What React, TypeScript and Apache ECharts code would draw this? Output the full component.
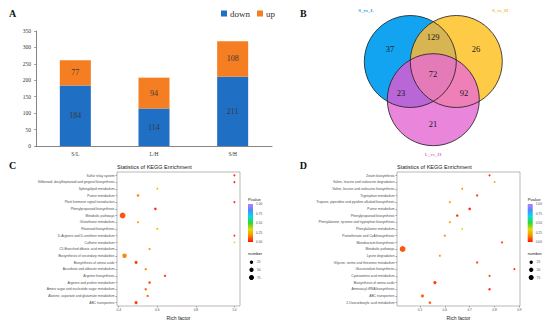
import React, { useEffect, useRef } from "react";
import * as echarts from "echarts";

// ---------- Panel A data ----------
const barCategories = ["S/L", "L/H", "S/H"];
const downValues = [184, 114, 211];
const upValues = [77, 94, 108];

// ---------- Panel B data ----------
const vennSetNames = ["S_vs_L", "S_vs_H", "L_vs_H"];
// region counts: A only, B only, C only, AB, AC, BC, ABC
const vennOnly = [37, 26, 21];
const vennPairAB = 129;
const vennPairAC = 23;
const vennPairBC = 92;
const vennAll = 72;

// ---------- Panel C data ----------
const keggCPathways = [
  "Sulfur relay system",
  "Stilbenoid, diarylheptanoid and gingerol biosynthesis",
  "Sphingolipid metabolism",
  "Purine metabolism",
  "Plant hormone signal transduction",
  "Phenylpropanoid biosynthesis",
  "Metabolic pathways",
  "Glutathione metabolism",
  "Flavonoid biosynthesis",
  "D-Arginine and D-ornithine metabolism",
  "Caffeine metabolism",
  "C5-Branched dibasic acid metabolism",
  "Biosynthesis of secondary metabolites",
  "Biosynthesis of amino acids",
  "Ascorbate and aldarate metabolism",
  "Arginine biosynthesis",
  "Arginine and proline metabolism",
  "Amino sugar and nucleotide sugar metabolism",
  "Alanine, aspartate and glutamate metabolism",
  "ABC transporters",
];
const keggCRich = [1.0, 1.0, 0.6, 0.5, 1.0, 0.59, 0.42, 0.5, 0.6, 1.0, 1.0, 0.56, 0.43, 0.49, 0.54, 0.64, 0.56, 0.54, 0.55, 0.49];
const keggCNumber = [3, 3, 3, 10, 3, 10, 110, 5, 3, 2, 1, 5, 55, 18, 7, 7, 10, 8, 6, 18];
const keggCPvalue = [0.02, 0.02, 0.3, 0.15, 0.03, 0.02, 0.08, 0.2, 0.3, 0.04, 0.3, 0.2, 0.15, 0.05, 0.15, 0.04, 0.06, 0.1, 0.1, 0.05];
const richTicksC = [0.4, 0.6, 0.8, 1.0];

// ---------- Panel D data ----------
const keggDPathways = [
  "Zeatin biosynthesis",
  "Valine, leucine and isoleucine degradation",
  "Valine, leucine and isoleucine biosynthesis",
  "Tryptophan metabolism",
  "Tropane, piperidine and pyridine alkaloid biosynthesis",
  "Purine metabolism",
  "Phenylpropanoid biosynthesis",
  "Phenylalanine, tyrosine and tryptophan biosynthesis",
  "Phenylalanine metabolism",
  "Pantothenate and CoA biosynthesis",
  "Monobactam biosynthesis",
  "Metabolic pathways",
  "Lysine degradation",
  "Glycine, serine and threonine metabolism",
  "Glucosinolate biosynthesis",
  "Cyanoamino acid metabolism",
  "Biosynthesis of amino acids",
  "Aminoacyl-tRNA biosynthesis",
  "ABC transporters",
  "2-Oxocarboxylic acid metabolism",
];
const keggDRich = [0.78, 0.8, 0.67, 0.73, 0.62, 0.7, 0.65, 0.62, 0.67, 0.6, 0.83, 0.43, 0.58, 0.73, 0.88, 0.78, 0.56, 0.78, 0.51, 0.54];
const keggDNumber = [3, 2, 3, 5, 3, 12, 10, 3, 1, 3, 3, 110, 4, 5, 4, 5, 22, 10, 18, 10];
const keggDPvalue = [0.03, 0.2, 0.2, 0.03, 0.2, 0.02, 0.05, 0.2, 0.3, 0.15, 0.04, 0.08, 0.18, 0.04, 0.03, 0.05, 0.04, 0.03, 0.1, 0.1];
const richTicksD = [0.5, 0.6, 0.7, 0.8, 0.9];

// ---------- legends ----------
const pvalueTicks = [0, 0.25, 0.5, 0.75, 1.0];
const numberTicks = [25, 50, 75];
const pColors = ["#FF1500", "#FF8A00", "#E6D800", "#2FD82F", "#00E0E0", "#4C8BFF", "#B77EFF"];

const SERIF = "'Liberation Serif', 'Times New Roman', serif";
const SANS = "'Liberation Sans', Arial, sans-serif";

const sizeFn = (n: number) => 1.2 + 0.44 * Math.sqrt(n);

// ---------- Venn geometry ----------
const R = 46;
const vennCenters: number[][] = [
  [410.3, 61.5],
  [456.3, 61.5],
  [433.3, 99.7],
];
const vennOnlyColors = ["#12A4F0", "#FECB47", "#E985DA"];
const vennABColor = "#D7B553";
const vennACColor = "#B967D6";
const vennBCColor = "#EE7FB7";
const vennAllColor = "#E47AB8";

function pairPoints(a: number[], b: number[]) {
  const dx = b[0] - a[0];
  const dy = b[1] - a[1];
  const d = Math.hypot(dx, dy);
  const h = Math.sqrt(R * R - (d * d) / 4);
  const mx = (a[0] + b[0]) / 2;
  const my = (a[1] + b[1]) / 2;
  const ux = -dy / d;
  const uy = dx / d;
  return [
    [mx + ux * h, my + uy * h],
    [mx - ux * h, my - uy * h],
  ];
}
const pt = (p: number[]) => `${p[0].toFixed(3)} ${p[1].toFixed(3)}`;
function lensPath(a: number[], b: number[]) {
  const [p, q] = pairPoints(a, b);
  return `M${pt(p)} A${R} ${R} 0 0 1 ${pt(q)} A${R} ${R} 0 0 1 ${pt(p)} Z`;
}
function innerPoint(a: number[], b: number[], c: number[]) {
  const [p, q] = pairPoints(a, b);
  const dp = Math.hypot(p[0] - c[0], p[1] - c[1]);
  const dq = Math.hypot(q[0] - c[0], q[1] - c[1]);
  return dp < dq ? p : q;
}
function centerPath() {
  const [A, B, C] = vennCenters;
  const verts = [innerPoint(A, B, C), innerPoint(A, C, B), innerPoint(B, C, A)];
  const cx = (verts[0][0] + verts[1][0] + verts[2][0]) / 3;
  const cy = (verts[0][1] + verts[1][1] + verts[2][1]) / 3;
  verts.sort((u, v) => Math.atan2(u[1] - cy, u[0] - cx) - Math.atan2(v[1] - cy, v[0] - cx));
  return `M${pt(verts[0])} A${R} ${R} 0 0 1 ${pt(verts[1])} A${R} ${R} 0 0 1 ${pt(verts[2])} A${R} ${R} 0 0 1 ${pt(verts[0])} Z`;
}

echarts.graphic.registerShape("vennLensAB", echarts.graphic.extendPath(lensPath(vennCenters[0], vennCenters[1]), {}));
echarts.graphic.registerShape("vennLensAC", echarts.graphic.extendPath(lensPath(vennCenters[0], vennCenters[2]), {}));
echarts.graphic.registerShape("vennLensBC", echarts.graphic.extendPath(lensPath(vennCenters[1], vennCenters[2]), {}));
echarts.graphic.registerShape("vennCenter", echarts.graphic.extendPath(centerPath(), {}));

function buildGraphics() {
  const g: any[] = [];
  const letter = (t: string, x: number, y: number) => ({
    type: "text",
    x,
    y,
    style: { text: t, fontSize: 10, fontWeight: "bold", fontFamily: SERIF, fill: "#111", align: "center", verticalAlign: "middle" },
  });
  g.push(letter("A", 12.5, 13), letter("B", 303.3, 13), letter("C", 12.7, 165), letter("D", 303.3, 165));

  // Venn fills
  vennCenters.forEach((c, i) => {
    g.push({ type: "circle", shape: { cx: c[0], cy: c[1], r: R }, style: { fill: vennOnlyColors[i] } });
  });
  g.push({ type: "vennLensAB", x: 0, y: 0, style: { fill: vennABColor } });
  g.push({ type: "vennLensAC", x: 0, y: 0, style: { fill: vennACColor } });
  g.push({ type: "vennLensBC", x: 0, y: 0, style: { fill: vennBCColor } });
  g.push({ type: "vennCenter", x: 0, y: 0, style: { fill: vennAllColor } });
  vennCenters.forEach((c) => {
    g.push({ type: "circle", shape: { cx: c[0], cy: c[1], r: R }, style: { fill: "none", stroke: "#1a1a1a", lineWidth: 0.8 } });
  });
  const num = (v: number, x: number, y: number) => ({
    type: "text",
    x,
    y,
    style: { text: String(v), fontSize: 8.5, fontFamily: SERIF, fill: "#1a1a1a", align: "center", verticalAlign: "middle" },
  });
  g.push(
    num(vennOnly[0], 390, 49),
    num(vennPairAB, 433, 37),
    num(vennOnly[1], 476, 49),
    num(vennAll, 433, 74),
    num(vennPairAC, 401, 93),
    num(vennPairBC, 464, 93),
    num(vennOnly[2], 433, 124)
  );
  const setLabelColors = ["#1BA3EE", "#F2BE3C", "#E07ED6"];
  const setLabelPos = [
    [366, 10],
    [500, 10],
    [433, 154.5],
  ];
  vennSetNames.forEach((n, i) => {
    g.push({
      type: "text",
      x: setLabelPos[i][0],
      y: setLabelPos[i][1],
      style: { text: n, fontSize: 5, fontWeight: "bold", fontFamily: SERIF, fill: setLabelColors[i], align: "center", verticalAlign: "middle" },
    });
  });

  // KEGG legends
  const legendAt = (lx: number) => {
    const barX = lx;
    const barY = 204;
    const barW = 5;
    const barH = 38;
    g.push({
      type: "text",
      x: lx,
      y: 199.5,
      style: { text: "Pvalue", fontSize: 4.2, fontFamily: SANS, fill: "#1a1a1a", align: "left", verticalAlign: "middle" },
    });
    g.push({
      type: "rect",
      shape: { x: barX, y: barY, width: barW, height: barH },
      style: {
        fill: {
          type: "linear",
          x: 0,
          y: 1,
          x2: 0,
          y2: 0,
          colorStops: pColors.map((c, i) => ({ offset: i / (pColors.length - 1), color: c })),
        },
      },
    });
    pvalueTicks.forEach((t) => {
      g.push({
        type: "text",
        x: barX + barW + 3,
        y: barY + barH * (1 - t),
        style: { text: t.toFixed(2), fontSize: 3.2, fontFamily: SANS, fill: "#4d4d4d", align: "left", verticalAlign: "middle" },
      });
    });
    g.push({
      type: "text",
      x: lx,
      y: 253.5,
      style: { text: "number", fontSize: 4.2, fontFamily: SANS, fill: "#1a1a1a", align: "left", verticalAlign: "middle" },
    });
    const dotY = [262.2, 269.8, 277.5];
    numberTicks.forEach((n, i) => {
      g.push({ type: "circle", shape: { cx: lx + 3.5, cy: dotY[i], r: sizeFn(n) / 2 }, style: { fill: "#000" } });
      g.push({
        type: "text",
        x: barX + barW + 4,
        y: dotY[i],
        style: { text: String(n), fontSize: 3.2, fontFamily: SANS, fill: "#4d4d4d", align: "left", verticalAlign: "middle" },
      });
    });
  };
  legendAt(248);
  legendAt(527.7);
  return g;
}

function keggXAxis(gridIndex: number, min: number, max: number, ticks: number[]) {
  return {
    gridIndex,
    type: "value",
    min,
    max,
    axisLine: { show: false },
    splitLine: { show: false },
    axisTick: { show: true, customValues: ticks, length: 1.5, lineStyle: { color: "#555", width: 0.5 } },
    axisLabel: {
      customValues: ticks,
      formatter: (v: number) => v.toFixed(1),
      fontSize: 3.2,
      fontFamily: SANS,
      color: "#4d4d4d",
      margin: 2.5,
    },
    name: "Rich factor",
    nameLocation: "middle",
    nameGap: 9,
    nameTextStyle: { fontSize: 5, fontFamily: SANS, color: "#1a1a1a" },
  };
}
function keggYAxis(gridIndex: number, data: string[]) {
  return {
    gridIndex,
    type: "category",
    data,
    inverse: true,
    axisLine: { show: false },
    splitLine: { show: false },
    axisTick: { show: true, alignWithLabel: true, interval: 0, length: 1.5, lineStyle: { color: "#555", width: 0.5 } },
    axisLabel: { interval: 0, fontSize: 3.3, fontFamily: SANS, color: "#4d4d4d", margin: 2.5 },
  };
}
function keggSeries(idx: number, names: string[], rich: number[], num: number[], p: number[]) {
  return {
    type: "scatter",
    xAxisIndex: idx,
    yAxisIndex: idx,
    data: names.map((n, i) => [rich[i], n, num[i], p[i]]),
    symbolSize: (v: any[]) => sizeFn(v[2]),
    itemStyle: { opacity: 0.95 },
  };
}

export default function App() {
  const ref = useRef<HTMLDivElement>(null);
  useEffect(() => {
    if (!ref.current) return;
    const chart = echarts.init(ref.current, null, { renderer: "svg" });
    const gridStyle = { show: true, borderColor: "#8a8a8a", borderWidth: 0.6, backgroundColor: "#fff" };
    chart.setOption({
      animation: false,
      backgroundColor: "#ffffff",
      title: [
        { text: "Statistics of KEGG Enrichment", left: 117, top: 164, padding: 0, textStyle: { fontSize: 5.5, fontWeight: "normal", fontFamily: SANS, color: "#1a1a1a" } },
        { text: "Statistics of KEGG Enrichment", left: 397, top: 164, padding: 0, textStyle: { fontSize: 5.5, fontWeight: "normal", fontFamily: SANS, color: "#1a1a1a" } },
      ],
      legend: {
        data: ["down", "up"],
        left: 221,
        top: 9,
        padding: 0,
        itemWidth: 6,
        itemHeight: 6,
        itemGap: 7,
        icon: "rect",
        textStyle: { fontSize: 9, fontFamily: SERIF, color: "#333", padding: [0, 0, 0, -2] },
      },
      grid: [
        { left: 36, top: 31, width: 236, height: 115 },
        { left: 117, top: 172, width: 123, height: 134, ...gridStyle },
        { left: 397, top: 172, width: 123, height: 134, ...gridStyle },
      ],
      xAxis: [
        {
          gridIndex: 0,
          type: "category",
          data: barCategories,
          axisLine: { show: true, lineStyle: { color: "#666", width: 0.8 } },
          axisTick: { show: false },
          axisLabel: { fontSize: 5.5, fontFamily: SERIF, color: "#333", margin: 5 },
        },
        keggXAxis(1, 0.391, 1.029, richTicksC),
        keggXAxis(2, 0.4075, 0.9025, richTicksD),
      ],
      yAxis: [
        {
          gridIndex: 0,
          type: "value",
          min: 0,
          max: 350,
          interval: 50,
          axisLine: { show: true, lineStyle: { color: "#666", width: 0.8 } },
          axisTick: { show: true, length: 2, lineStyle: { color: "#666", width: 0.6 } },
          splitLine: { show: false },
          axisLabel: { fontSize: 5.5, fontFamily: SERIF, color: "#333", margin: 5 },
        },
        keggYAxis(1, keggCPathways),
        keggYAxis(2, keggDPathways),
      ],
      visualMap: [
        {
          type: "continuous",
          show: false,
          seriesIndex: [2, 3],
          dimension: 3,
          min: 0,
          max: 1,
          inRange: { color: pColors },
        },
      ],
      series: [
        {
          name: "down",
          type: "bar",
          stack: "total",
          xAxisIndex: 0,
          yAxisIndex: 0,
          barWidth: 31,
          data: downValues,
          itemStyle: { color: "#1F6FC5" },
          label: { show: true, position: "inside", fontSize: 8, fontFamily: SERIF, color: "#3a3a3a" },
        },
        {
          name: "up",
          type: "bar",
          stack: "total",
          xAxisIndex: 0,
          yAxisIndex: 0,
          barWidth: 31,
          data: upValues,
          itemStyle: { color: "#F57E22" },
          label: { show: true, position: "inside", fontSize: 8, fontFamily: SERIF, color: "#3a3a3a" },
        },
        keggSeries(1, keggCPathways, keggCRich, keggCNumber, keggCPvalue),
        keggSeries(2, keggDPathways, keggDRich, keggDNumber, keggDPvalue),
      ],
      graphic: buildGraphics(),
    });
    return () => chart.dispose();
  }, []);
  return <div ref={ref} style={{ position: "fixed", left: 0, top: 0, width: 550, height: 324, background: "#fff" }} />;
}
